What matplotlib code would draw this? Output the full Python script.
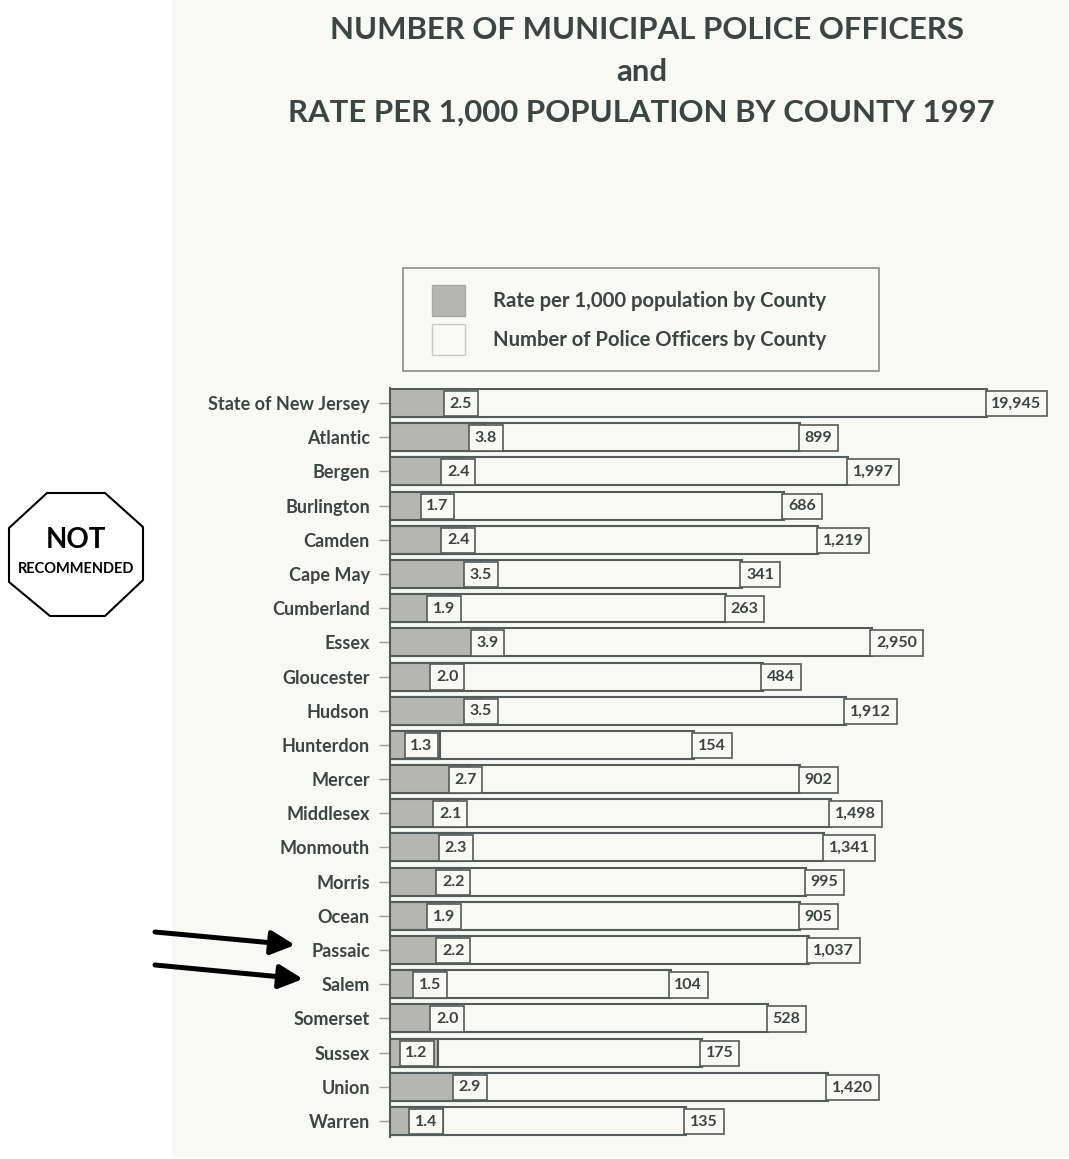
import matplotlib

matplotlib.use('Agg')
import matplotlib.pyplot as plt
from matplotlib.patches import Patch, Polygon, Rectangle

counties = ['State of New Jersey', 'Atlantic', 'Bergen', 'Burlington', 'Camden', 'Cape May',
            'Cumberland', 'Essex', 'Gloucester', 'Hudson', 'Hunterdon', 'Mercer', 'Middlesex',
            'Monmouth', 'Morris', 'Ocean', 'Passaic', 'Salem', 'Somerset', 'Sussex', 'Union', 'Warren']
rates = [2.5, 3.8, 2.4, 1.7, 2.4, 3.5, 1.9, 3.9, 2.0, 3.5, 1.3, 2.7, 2.1, 2.3, 2.2, 1.9, 2.2, 1.5, 2.0, 1.2, 2.9, 1.4]
officers = [19945, 899, 1997, 686, 1219, 341, 263, 2950, 484, 1912, 154, 902, 1498, 1341, 995, 905, 1037, 104,
            528, 175, 1420, 135]

W, H = 1069, 1159
PAPER = '#f8f8f4'
INK = '#3d4444'
EDGE = '#555a5a'
RATE_FILL = '#b5b6b2'

plt.rcParams['font.family'] = ['Lato', 'DejaVu Sans']
plt.rcParams['font.weight'] = 'bold'

fig = plt.figure(figsize=(W / 100, H / 100), dpi=100, facecolor='white')

# full figure layer in pixel coordinates, for the paper, title and notes
bg = fig.add_axes([0, 0, 1, 1], zorder=0)
bg.set_xlim(0, W)
bg.set_ylim(H, 0)
bg.axis('off')
bg.add_patch(Rectangle((172, 0), W - 172, 1157, fc=PAPER, ec='none'))

title_size = 22.4
bg.text(647, 30, 'NUMBER OF MUNICIPAL POLICE OFFICERS', ha='center', va='center', fontsize=title_size, color=INK)
bg.text(642, 72, 'and', ha='center', va='center', fontsize=title_size, color=INK)
bg.text(641, 113, 'RATE PER 1,000 POPULATION BY COUNTY 1997', ha='center', va='center', fontsize=title_size, color=INK)

bg.add_patch(Rectangle((403, 268), 476, 103, fc='none', ec='#8a8e8e', lw=1.2))

# not recommended sign
sign = [(47, 493), (105, 493), (143, 527), (143, 580), (105, 616), (50, 616), (9, 582), (9, 528)]
bg.add_patch(Polygon(sign, closed=True, fc='white', ec='black', lw=1.5))
bg.text(76, 540, 'NOT', ha='center', va='center', fontsize=20, color='black')
bg.text(76, 569, 'RECOMMENDED', ha='center', va='center', fontsize=10.5, color='black')

for tail, tip in [((155, 932), (295, 945)), ((155, 965), (303, 979))]:
    bg.annotate('', xy=tip, xytext=tail,
                arrowprops=dict(arrowstyle='-|>,head_length=0.9,head_width=0.45', lw=3.6, color='black',
                                shrinkA=0, shrinkB=0, mutation_scale=16))

# bars, both series on the same log axis starting at 1
ax_left, ax_right, ax_top, ax_bottom = 390, 1062, 388, 1137
ax = fig.add_axes([ax_left / W, 1 - ax_bottom / H, (ax_right - ax_left) / W, (ax_bottom - ax_top) / H], zorder=1)
ax.patch.set_alpha(0)
ax.set_xscale('log')
ax.set_xlim(1, 10 ** ((ax_right - ax_left) / 138.8))
ax.set_ylim(21.47, -0.44)

y = list(range(len(counties)))
ax.barh(y, officers, left=1, height=0.82, color=PAPER, edgecolor=EDGE, lw=1.5, label='Number of Police Officers by County')
ax.barh(y, rates, left=1, height=0.82, color=RATE_FILL, edgecolor=EDGE, lw=1.5, label='Rate per 1,000 population by County')

for i in y:
    for value, text in [(rates[i], f'{rates[i]:.1f}'), (officers[i], f'{officers[i]:,}')]:
        ax.annotate(text, xy=(value, i), xytext=(3.2, -0.5), textcoords='offset points', ha='left', va='center',
                    fontsize=11.5, color=INK,
                    bbox=dict(boxstyle='square,pad=0.36', fc=PAPER, ec=EDGE, lw=1.2))

for side in ['top', 'right', 'bottom']:
    ax.spines[side].set_visible(False)
ax.spines['left'].set_color(EDGE)
ax.spines['left'].set_linewidth(1.5)
ax.set_xticks([])
ax.minorticks_off()
ax.set_yticks(y)
ax.set_yticklabels(counties, fontsize=13, color=INK)
ax.tick_params(axis='y', length=8, width=1, color='#9a9e9e', pad=6.5)
ax.tick_params(axis='x', which='both', length=0, labelbottom=False)

handles = [Patch(fc=RATE_FILL, ec='#a8a9a5', lw=1), Patch(fc=PAPER, ec='#c8c9c5', lw=1)]
leg = bg.legend(handles, ['Rate per 1,000 population by County', 'Number of Police Officers by County'],
                loc='upper left', bbox_to_anchor=(432 / W, 1 - 285 / H), bbox_transform=fig.transFigure,
                frameon=False, borderpad=0, borderaxespad=0, prop=dict(size=14.6), labelcolor=INK,
                handlelength=1.63, handleheight=2.0, handletextpad=1.39, labelspacing=0.38)

fig.savefig('out.png', dpi=100)
